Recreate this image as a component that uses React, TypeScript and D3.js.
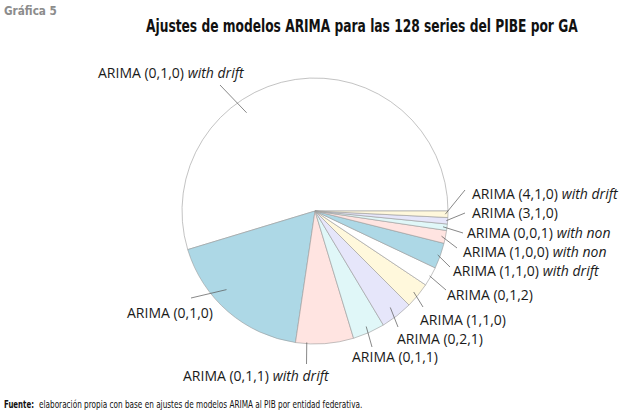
import React, { useLayoutEffect, useRef, useState } from "react";
import * as d3 from "d3";

// ---- data ----
const models = [
  "ARIMA (0,1,0)", "ARIMA (0,1,0)", "ARIMA (0,1,1)", "ARIMA (0,1,1)",
  "ARIMA (0,2,1)", "ARIMA (1,1,0)", "ARIMA (0,1,2)", "ARIMA (1,1,0)",
  "ARIMA (1,0,0)", "ARIMA (0,0,1)", "ARIMA (3,1,0)", "ARIMA (4,1,0)",
];
const suffixes = [
  "with drift", "", "with drift", "", "", "", "", "with drift",
  "with non", "with non", "", "with drift",
];
const counts = [70, 23, 9, 5, 5, 4, 3, 4, 2, 1, 1, 1];
const palette = ["#ffffff", "#add8e6", "#ffe4e1", "#e0f7f8", "#e6e6fa", "#fff8dc"];

// ---- layout (label placement) ----
const W = 634, H = 412;
const CX = 315, CY = 211, R = 133;
type LL = { shift: number; rf: number; ox: number; oy: number; tx: number; ty: number; anchor: "start" | "end" };
const labelLayout: LL[] = [
  { shift: 26.4, rf: 0.9, ox: 220, oy: 85, tx: 98, ty: 78, anchor: "start" },
  { shift: -7.6, rf: 0.89, ox: 191, oy: 298, tx: 213, ty: 318, anchor: "end" },
  { shift: -7.8, rf: 0.99, ox: 306.5, oy: 364, tx: 183, ty: 381, anchor: "start" },
  { shift: 0, rf: 0.95, ox: 372, oy: 347, tx: 352, ty: 362, anchor: "start" },
  { shift: 0, rf: 0.92, ox: 398, oy: 327, tx: 397, ty: 344, anchor: "start" },
  { shift: 0, rf: 0.96, ox: 423, oy: 307, tx: 420, ty: 325, anchor: "start" },
  { shift: 0, rf: 0.99, ox: 446, oy: 290, tx: 447, ty: 300, anchor: "start" },
  { shift: 0, rf: 0.98, ox: 450, oy: 267, tx: 453, ty: 276, anchor: "start" },
  { shift: 0, rf: 0.97, ox: 457, oy: 248, tx: 463, ty: 257, anchor: "start" },
  { shift: 0, rf: 0.97, ox: 463, oy: 233, tx: 467, ty: 238, anchor: "start" },
  { shift: 0, rf: 0.99, ox: 465, oy: 213, tx: 472, ty: 218, anchor: "start" },
  { shift: 0, rf: 0.98, ox: 465, oy: 190, tx: 472, ty: 199, anchor: "start" },
];

const labelFont = '"Open Sans", "Noto Sans", sans-serif';
const condFont = '"Liberation Sans Narrow", "DejaVu Sans Condensed", "Arial Narrow", sans-serif';

function FitText(props: {
  x: number; y: number; width: number; fontSize: number; bold?: boolean; fill: string; children: string;
}) {
  const ref = useRef<SVGTextElement>(null);
  const [sx, setSx] = useState(1);
  useLayoutEffect(() => {
    if (ref.current) {
      const w = ref.current.getComputedTextLength();
      if (w > 0) setSx(props.width / w);
    }
  }, [props.width, props.children]);
  return (
    <text
      ref={ref}
      transform={`translate(${props.x},${props.y}) scale(${sx},1)`}
      fontFamily={condFont}
      fontWeight={props.bold ? "bold" : "normal"}
      fontSize={props.fontSize}
      fill={props.fill}
    >
      {props.children}
    </text>
  );
}

export default function App() {
  const pie = d3
    .pie<number>()
    .sort(null)
    .value((d) => d)
    .startAngle(Math.PI / 2)
    .endAngle(Math.PI / 2 - 2 * Math.PI);
  const arcs = pie(counts);
  const arc = d3.arc<d3.PieArcDatum<number>>().innerRadius(0).outerRadius(R);

  return (
    <svg
      width={W}
      height={H}
      style={{ position: "absolute", left: 0, top: 0, background: "#fff" }}
    >
      <FitText x={4} y={15} width={53} fontSize={12.5} bold fill="#8c8c8c">Gráfica 5</FitText>
      <FitText x={146} y={32} width={432} fontSize={18.5} bold fill="#111">
        Ajustes de modelos ARIMA para las 128 series del PIBE por GA
      </FitText>

      <g transform={`translate(${CX},${CY})`}>
        {arcs.map((a, i) => (
          <path
            key={i}
            d={arc(a) || ""}
            fill={palette[i % palette.length]}
            stroke="#9a9a9a"
            strokeWidth={0.6}
          />
        ))}
      </g>

      {arcs.map((a, i) => {
        const L = labelLayout[i];
        const mid = (a.startAngle + a.endAngle) / 2 - (L.shift * Math.PI) / 180;
        const ix = CX + L.rf * R * Math.sin(mid);
        const iy = CY - L.rf * R * Math.cos(mid);
        return (
          <g key={i}>
            <line x1={ix} y1={iy} x2={L.ox} y2={L.oy} stroke="#555" strokeWidth={0.7} />
            <text x={L.tx} y={L.ty} textAnchor={L.anchor} fontFamily={labelFont} fontSize={14} fill="#1a1a1a">
              {models[i]}
              {suffixes[i] ? (
                <tspan fontStyle="italic">{" " + suffixes[i]}</tspan>
              ) : null}
            </text>
          </g>
        );
      })}

      <FitText x={4} y={408} width={30} fontSize={11} bold fill="#111">Fuente:</FitText>
      <FitText x={39} y={408} width={324} fontSize={11} fill="#111">
        elaboración propia con base en ajustes de modelos ARIMA al PIB por entidad federativa.
      </FitText>
    </svg>
  );
}
